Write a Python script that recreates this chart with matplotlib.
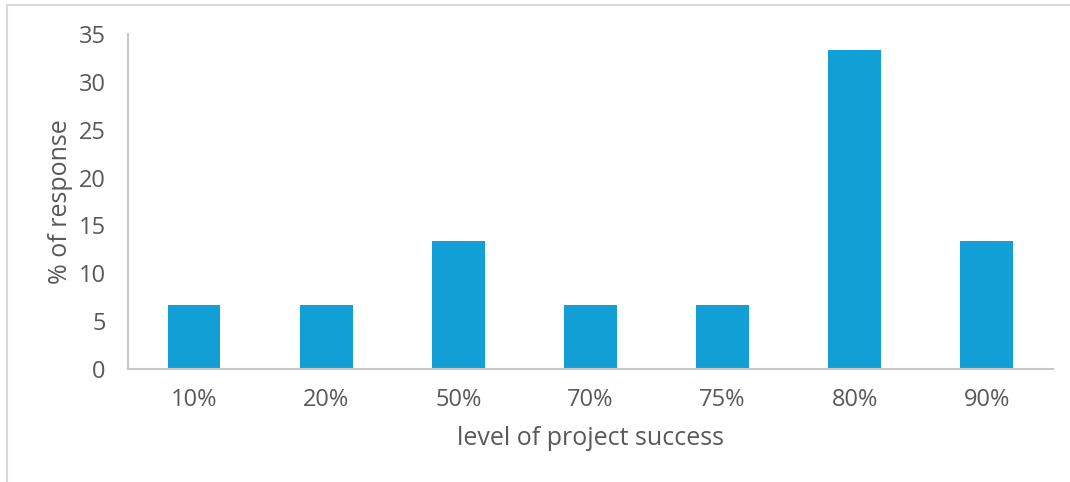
import matplotlib.pyplot as plt
from matplotlib.lines import Line2D

plt.rcParams['font.family'] = ['Open Sans', 'DejaVu Sans']

# survey results
levels = ["10%", "20%", "50%", "70%", "75%", "80%", "90%"]
responses = [6.67, 6.67, 13.33, 6.67, 6.67, 33.33, 13.33]

text_color = '#595959'
bar_color = '#129fd6'

fig = plt.figure(figsize=(10.70, 4.82), dpi=100)
ax = fig.add_axes([0.1196, 0.2344, 0.8644, 0.6951])

x = range(len(levels))
ax.bar(x, responses, width=0.4, color=bar_color, zorder=2)

ax.set_xlim(-0.5, len(levels) - 0.5)
ax.set_ylim(0, 35)
ax.set_yticks(range(0, 36, 5))
ax.set_xticks(list(x))
ax.set_xticklabels(levels)

for s in ['top', 'right']:
    ax.spines[s].set_visible(False)
for s in ['left', 'bottom']:
    ax.spines[s].set_color('#c8c8c8')
    ax.spines[s].set_linewidth(1.5)

ax.tick_params(axis='both', length=0, labelsize=17, colors=text_color)
ax.tick_params(axis='y', pad=16)
ax.tick_params(axis='x', pad=14)

ax.set_xlabel("level of project success", fontsize=18, color=text_color, labelpad=10)
ax.set_ylabel("% of response", fontsize=18, color=text_color, labelpad=4)

# outer chart frame (top and left edges)
fig.add_artist(Line2D([7 / 1070, 1.0], [1 - 5 / 482, 1 - 5 / 482],
                      transform=fig.transFigure, color='#d9d9d9', lw=1.5))
fig.add_artist(Line2D([7 / 1070, 7 / 1070], [0.0, 1 - 5 / 482],
                      transform=fig.transFigure, color='#d9d9d9', lw=1.5))

fig.savefig("out.png", dpi=100)
